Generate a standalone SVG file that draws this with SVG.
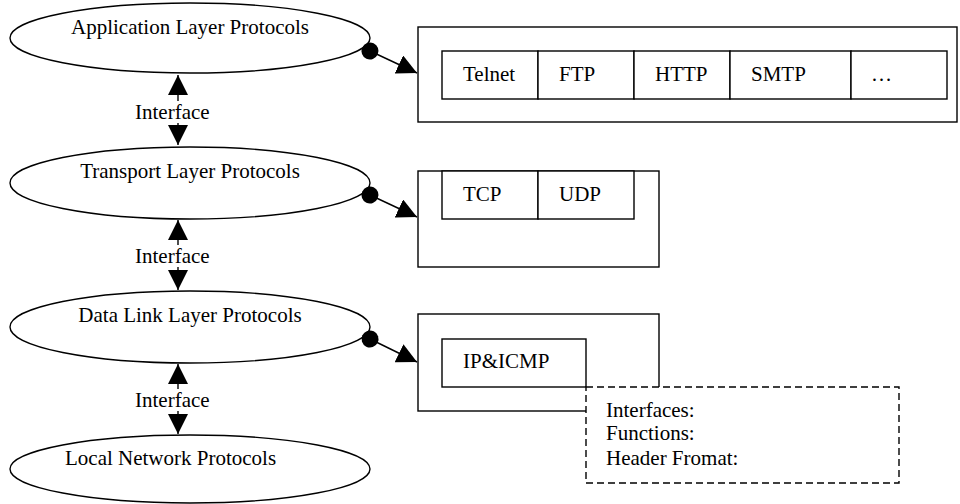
<svg xmlns="http://www.w3.org/2000/svg" width="960" height="504" viewBox="0 0 960 504">
  <style>
    .shape { fill: #fff; stroke: #000; stroke-width: 1.4; }
    .dashed { fill: #fff; stroke: #000; stroke-width: 1.4; stroke-dasharray: 7 4; }
    .wire { fill: none; stroke: #000; stroke-width: 1.4; }
    text { font-family: "Liberation Serif", "Times New Roman", serif; font-size: 21px; fill: #000; }
    .mid { text-anchor: middle; }
    .pad { fill: #fff; stroke: none; }
  </style>
  <defs>
    <marker id="arrow" viewBox="0 0 20 20" refX="20" refY="10" markerWidth="20" markerHeight="20" markerUnits="userSpaceOnUse" orient="auto-start-reverse">
      <path d="M0,0 L20,10 L0,20 Z" fill="#000"/>
    </marker>
    <marker id="dot" viewBox="0 0 20 20" refX="10" refY="10" markerWidth="20" markerHeight="20" markerUnits="userSpaceOnUse" orient="auto">
      <circle cx="10" cy="10" r="8.5" fill="#000"/>
    </marker>
  </defs>

  <!-- protocol layers -->
  <g id="app-layer">
    <ellipse class="shape" cx="190" cy="38" rx="180" ry="35"/>
    <text class="mid" x="190" y="34">Application Layer Protocols</text>
  </g>
  <g id="transport-layer">
    <ellipse class="shape" cx="190" cy="183" rx="180" ry="36"/>
    <text class="mid" x="190" y="178">Transport Layer Protocols</text>
  </g>
  <g id="datalink-layer">
    <ellipse class="shape" cx="190" cy="327" rx="180" ry="36"/>
    <text class="mid" x="190" y="322">Data Link Layer Protocols</text>
  </g>
  <g id="local-layer">
    <ellipse class="shape" cx="190" cy="469" rx="180" ry="34"/>
    <text x="65" y="465">Local Network Protocols</text>
  </g>

  <!-- application protocols -->
  <g id="app-protocols">
    <rect class="shape" x="418" y="27" width="539" height="95"/>
    <rect class="shape" x="442" y="51" width="96" height="48"/>
    <rect class="shape" x="538" y="51" width="96" height="48"/>
    <rect class="shape" x="634" y="51" width="96" height="48"/>
    <rect class="shape" x="730" y="51" width="121" height="48"/>
    <rect class="shape" x="851" y="51" width="96" height="48"/>
    <text x="463" y="81">Telnet</text>
    <text x="559" y="81">FTP</text>
    <text x="655" y="81">HTTP</text>
    <text x="751" y="81">SMTP</text>
    <text x="871" y="81">…</text>
  </g>

  <!-- transport protocols -->
  <g id="transport-protocols">
    <rect class="shape" x="418" y="171" width="241" height="96"/>
    <rect class="shape" x="442" y="171" width="96" height="48"/>
    <rect class="shape" x="538" y="171" width="96" height="48"/>
    <text x="463" y="201">TCP</text>
    <text x="559" y="201">UDP</text>
  </g>

  <!-- network protocols -->
  <g id="network-protocols">
    <rect class="shape" x="418" y="314" width="241" height="97"/>
    <rect class="shape" x="442" y="339" width="144" height="48"/>
    <text x="463" y="368">IP&amp;ICMP</text>
  </g>

  <!-- protocol description note -->
  <g id="note">
    <rect class="dashed" x="586" y="387" width="313" height="96"/>
    <text x="606" y="417">Interfaces:</text>
    <text x="606" y="440">Functions:</text>
    <text x="606" y="465">Header Fromat:</text>
  </g>

  <g id="connectors">
    <!-- layer to protocol set -->
    <line class="wire" x1="370" y1="51" x2="417" y2="73" marker-start="url(#dot)" marker-end="url(#arrow)"/>
    <line class="wire" x1="370" y1="195" x2="417" y2="217" marker-start="url(#dot)" marker-end="url(#arrow)"/>
    <line class="wire" x1="370" y1="339" x2="417" y2="362" marker-start="url(#dot)" marker-end="url(#arrow)"/>

    <!-- interfaces between layers -->
    <line class="wire" x1="178" y1="75" x2="178" y2="145" marker-start="url(#arrow)" marker-end="url(#arrow)"/>
    <rect class="pad" x="134" y="101" width="78" height="22"/>
    <text x="135" y="119">Interface</text>

    <line class="wire" x1="178" y1="220" x2="178" y2="290" marker-start="url(#arrow)" marker-end="url(#arrow)"/>
    <rect class="pad" x="134" y="245" width="78" height="22"/>
    <text x="135" y="263">Interface</text>

    <line class="wire" x1="178" y1="364" x2="178" y2="434" marker-start="url(#arrow)" marker-end="url(#arrow)"/>
    <rect class="pad" x="134" y="389" width="78" height="22"/>
    <text x="135" y="407">Interface</text>
  </g>
</svg>
